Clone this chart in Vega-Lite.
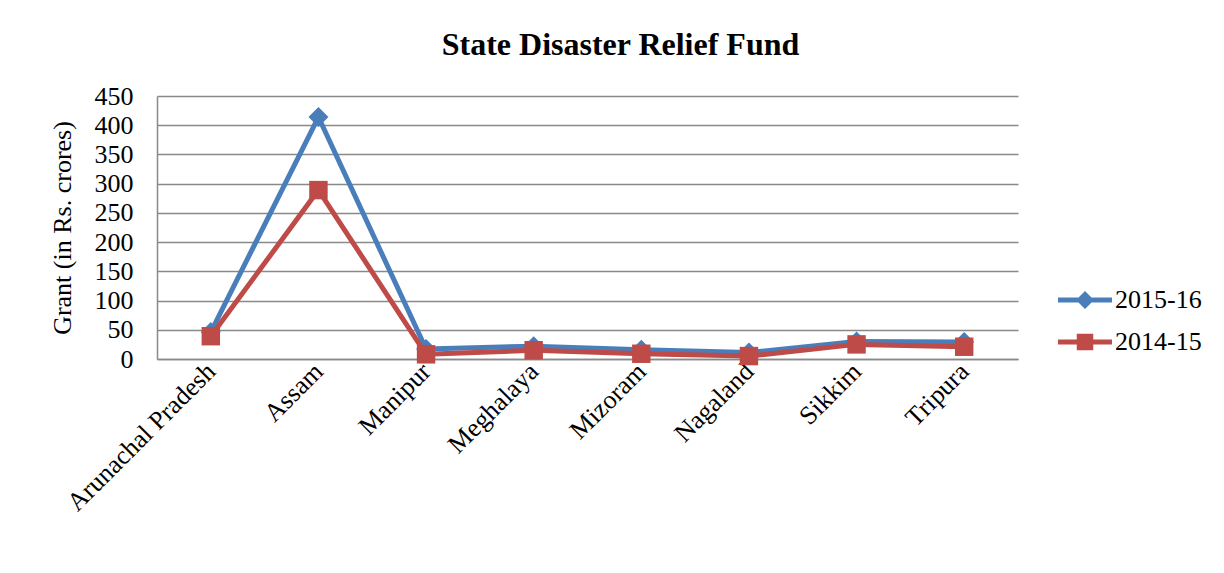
{
  "$schema": "https://vega.github.io/schema/vega-lite/v6.json",
  "autosize": "none",
  "width": 861,
  "height": 263,
  "padding": {"left": 157, "top": 96, "right": 206, "bottom": 214},
  "background": "white",
  "config": {
    "font": "Liberation Serif",
    "view": {"stroke": null}
  },
  "title": {
    "text": "State Disaster Relief Fund",
    "fontSize": 32,
    "fontWeight": "bold",
    "font": "Liberation Serif",
    "color": "black",
    "dx": 33,
    "offset": 21
  },
  "data": {
    "values": [
      {"state": "Arunachal Pradesh", "series": "2015-16", "grant": 46},
      {"state": "Assam", "series": "2015-16", "grant": 414},
      {"state": "Manipur", "series": "2015-16", "grant": 17},
      {"state": "Meghalaya", "series": "2015-16", "grant": 22},
      {"state": "Mizoram", "series": "2015-16", "grant": 16},
      {"state": "Nagaland", "series": "2015-16", "grant": 11},
      {"state": "Sikkim", "series": "2015-16", "grant": 30},
      {"state": "Tripura", "series": "2015-16", "grant": 29},
      {"state": "Arunachal Pradesh", "series": "2014-15", "grant": 39},
      {"state": "Assam", "series": "2014-15", "grant": 289},
      {"state": "Manipur", "series": "2014-15", "grant": 8},
      {"state": "Meghalaya", "series": "2014-15", "grant": 15},
      {"state": "Mizoram", "series": "2014-15", "grant": 9},
      {"state": "Nagaland", "series": "2014-15", "grant": 5},
      {"state": "Sikkim", "series": "2014-15", "grant": 25},
      {"state": "Tripura", "series": "2014-15", "grant": 21}
    ]
  },
  "encoding": {
    "x": {
      "field": "state",
      "type": "nominal",
      "sort": null,
      "scale": {"type": "point", "padding": 0.5},
      "axis": {
        "title": null,
        "labelAngle": -45,
        "labelAlign": "right",
        "labelBaseline": "middle",
        "labelFontSize": 26,
        "labelColor": "black",
        "labelPadding": 8,
        "labelLimit": 0,
        "labelOverlap": false,
        "ticks": false,
        "domainColor": "#898989",
        "domainWidth": 1.5,
        "grid": false
      }
    },
    "y": {
      "field": "grant",
      "type": "quantitative",
      "scale": {"domain": [0, 450], "nice": false},
      "axis": {
        "title": "Grant (in Rs. crores)",
        "titleFontSize": 26,
        "titleFontWeight": "normal",
        "titleColor": "black",
        "titlePadding": 19,
        "values": [0, 50, 100, 150, 200, 250, 300, 350, 400, 450],
        "labelFontSize": 26,
        "labelColor": "black",
        "labelPadding": 24,
        "ticks": false,
        "grid": true,
        "gridColor": "#898989",
        "gridWidth": 1.5,
        "domainColor": "#898989",
        "domainWidth": 1.5
      }
    },
    "color": {
      "field": "series",
      "type": "nominal",
      "scale": {"domain": ["2015-16", "2014-15"], "range": ["#4A7EBB", "#BE4B48"]},
      "legend": {
        "title": null,
        "orient": "none",
        "legendX": 913,
        "legendY": 189,
        "labelFontSize": 26,
        "labelColor": "black",
        "labelOffset": 15,
        "rowPadding": 14,
        "symbolSize": 900,
        "symbolStrokeWidth": 0,
        "encode": {
          "symbols": {
            "update": {
              "shape": {"signal": "datum.value === '2015-16' ? 'M-1.8,-0.16 L1.8,-0.16 L1.8,0.16 L-1.8,0.16 Z M0,-0.6 L0.6,0 L0,0.6 L-0.6,0 Z' : 'M-1.8,-0.16 L1.8,-0.16 L1.8,0.16 L-1.8,0.16 Z M-0.55,-0.55 L0.55,-0.55 L0.55,0.55 L-0.55,0.55 Z'"},
              "fill": {"scale": "color", "field": "value"},
              "strokeWidth": {"value": 0},
              "opacity": {"value": 1}
            }
          }
        }
      }
    }
  },
  "layer": [
    {
      "transform": [{"filter": "datum.series === '2015-16'"}],
      "mark": {"type": "line", "strokeWidth": 5, "strokeJoin": "round", "strokeCap": "round"}
    },
    {
      "transform": [{"filter": "datum.series === '2015-16'"}],
      "mark": {"type": "point", "shape": "diamond", "filled": true, "size": 400, "opacity": 1}
    },
    {
      "transform": [{"filter": "datum.series === '2014-15'"}],
      "mark": {"type": "line", "strokeWidth": 5, "strokeJoin": "round", "strokeCap": "round"}
    },
    {
      "transform": [{"filter": "datum.series === '2014-15'"}],
      "mark": {"type": "point", "shape": "square", "filled": true, "size": 340, "opacity": 1}
    }
  ]
}
